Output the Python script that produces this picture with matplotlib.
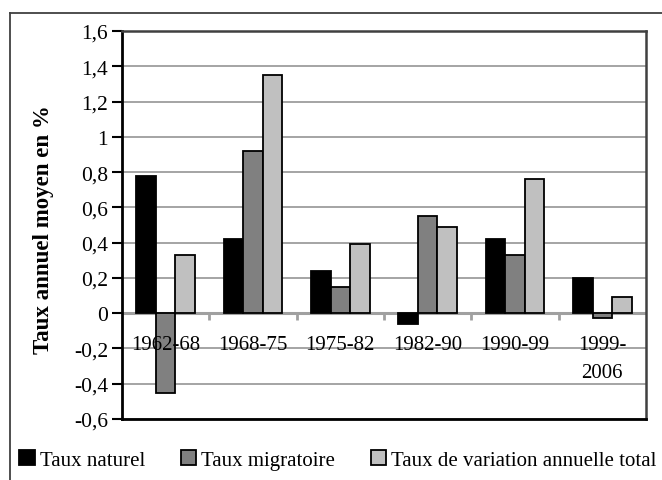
import matplotlib
matplotlib.use("Agg")
import matplotlib.pyplot as plt
from matplotlib.patches import Patch
from matplotlib.lines import Line2D
import numpy as np

categories = ["1962-68", "1968-75", "1975-82", "1982-90", "1990-99", "1999-\n2006"]
taux_naturel = [0.78, 0.42, 0.24, -0.06, 0.42, 0.20]
taux_migratoire = [-0.45, 0.92, 0.15, 0.55, 0.33, -0.03]
taux_total = [0.33, 1.35, 0.39, 0.49, 0.76, 0.09]
series_names = ["Taux naturel", "Taux migratoire", "Taux de variation annuelle total"]
series_colors = ["#000000", "#808080", "#c0c0c0"]
yticks = [-0.6, -0.4, -0.2, 0, 0.2, 0.4, 0.6, 0.8, 1, 1.2, 1.4, 1.6]
ytick_labels = ["-0,6", "-0,4", "-0,2", "0", "0,2", "0,4", "0,6", "0,8", "1", "1,2", "1,4", "1,6"]

plt.rcParams['font.family'] = ['Liberation Serif', 'DejaVu Serif']

fig = plt.figure(figsize=(6.62, 4.81), dpi=100)
ax = fig.add_axes([122/662, (481-420)/481, (646-122)/662, (420-32)/481])

x = np.arange(len(categories))
w = 0.225
data = [taux_naturel, taux_migratoire, taux_total]
for i, (vals, col) in enumerate(zip(data, series_colors)):
    ax.bar(x + (i - 1) * w, vals, width=w, color=col, edgecolor="black", linewidth=1.3, zorder=3)

ax.set_xlim(-0.5, len(categories) - 0.5)
ax.set_ylim(-0.6, 1.6)
ax.set_yticks(yticks)
ax.set_yticklabels(ytick_labels, fontsize=15.5)
ax.tick_params(axis='y', length=7, width=1.5, direction='out', pad=3)
ax.yaxis.grid(True, color="#8c8c8c", linewidth=1.1, zorder=0)
ax.set_axisbelow(True)
ax.set_xticks([])

for s in ['left', 'bottom']:
    ax.spines[s].set_color('black')
    ax.spines[s].set_linewidth(2)
for s in ['right', 'top']:
    ax.spines[s].set_color('#404040')
    ax.spines[s].set_linewidth(1.8)

# zero axis line with category boundary ticks
ax.axhline(0, color="#a0a0a0", linewidth=2.2, zorder=2)
for b in np.arange(0.5, len(categories) - 1, 1.0):
    ax.plot([b, b], [0, -0.04], color="#a0a0a0", linewidth=2, zorder=2, solid_capstyle='butt')

for xi, lab in zip(x, categories):
    ax.text(xi, -0.125, lab, ha='center', va='top', fontsize=15, linespacing=1.65, zorder=4)

ax.set_ylabel("Taux annuel moyen en %", fontsize=16.5, fontweight='bold')
ax.yaxis.set_label_coords(-0.13, 0.49)

# outer frame
fig.add_artist(Line2D([10/662, 1.0], [1 - 14/481, 1 - 14/481], color="#404040", linewidth=1.3, transform=fig.transFigure))
fig.add_artist(Line2D([10/662, 10/662], [0, 1 - 14/481], color="#404040", linewidth=1.3, transform=fig.transFigure))

handles = [Patch(facecolor=c, edgecolor='black', linewidth=1.3) for c in series_colors]
fig.legend(handles, series_names, loc='center left', bbox_to_anchor=(19/662, 20/481), ncol=3,
           frameon=False, fontsize=15, handlelength=0.75, handleheight=0.75, handletextpad=0.25,
           columnspacing=1.7, borderaxespad=0, borderpad=0)

fig.savefig("out.png", dpi=100)
